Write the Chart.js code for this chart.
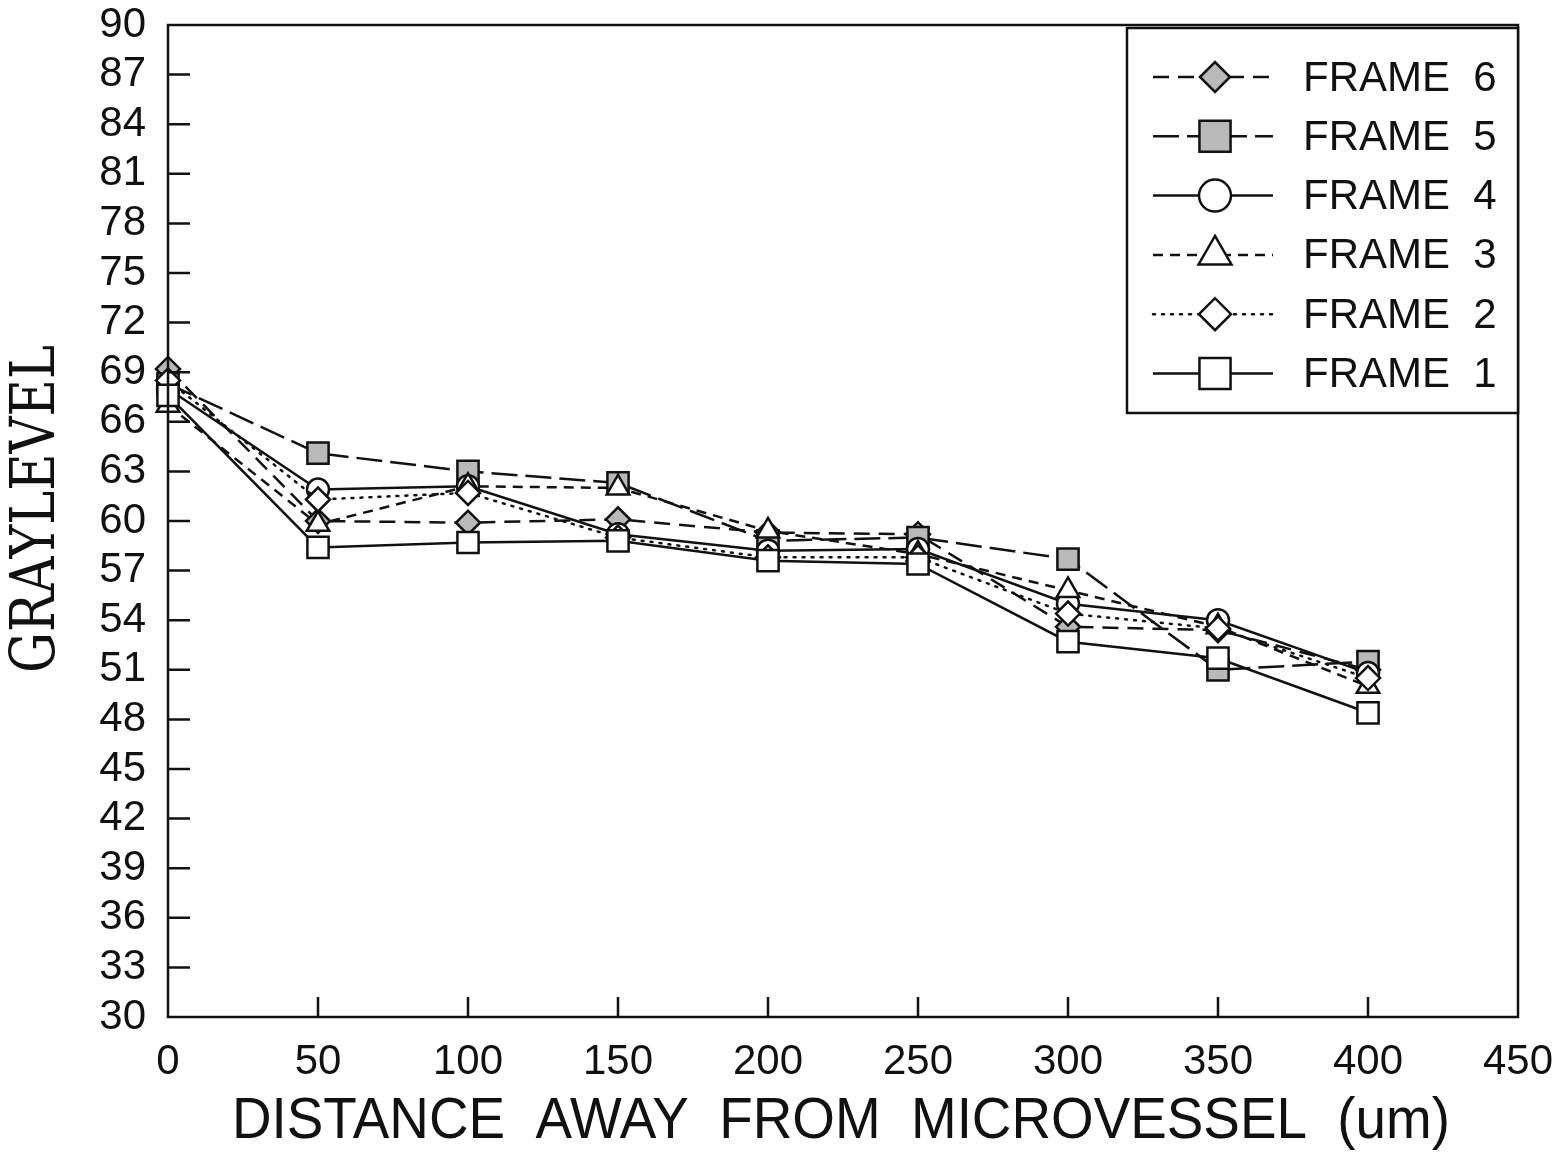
<!DOCTYPE html>
<html>
<head>
<meta charset="utf-8">
<script src="https://cdn.jsdelivr.net/npm/chart.js@4.4.1/dist/chart.umd.min.js"></script>
<style>
    html, body { margin: 0; padding: 0; background: #fff; }
    #wrap { width: 1566px; height: 1157px; position: relative; }
</style>
</head>
<body>
<div id="wrap"><canvas id="grayChart" width="1566" height="1157"></canvas></div>
<script>
// distance from the microvessel (um) and mean graylevel for each frame
const distances = [0, 50, 100, 150, 200, 250, 300, 350, 400];
const frame1 = [67.6, 58.4, 58.7, 58.8, 57.6, 57.4, 52.7, 51.7, 48.4];
const frame2 = [68.5, 61.3, 61.7, 59.0, 57.8, 57.8, 54.4, 53.5, 50.5];
const frame3 = [67.0, 59.8, 62.1, 62.0, 59.4, 58.0, 55.8, 53.6, 50.0];
const frame4 = [68.0, 61.9, 62.1, 59.2, 58.2, 58.3, 55.0, 54.0, 50.8];
const frame5 = [68.3, 64.1, 63.0, 62.3, 58.8, 59.0, 57.7, 51.0, 51.5];
const frame6 = [69.2, 60.0, 59.9, 60.1, 59.3, 59.2, 53.6, 53.4, 51.0];

const xTicks = [0, 50, 100, 150, 200, 250, 300, 350, 400, 450];
const yTicks = [30, 33, 36, 39, 42, 45, 48, 51, 54, 57, 60, 63, 66, 69, 72, 75, 78, 81, 84, 87, 90];

const INK = '#111';
const SHADE = '#b9b9b9';
const TICK_FONT = 'Liberation Sans, Arial, sans-serif';

function toPoints(values) {
    return distances.map((d, i) => ({ x: d, y: values[i] }));
}

function frameSet(label, values, style) {
    return {
        label: label,
        data: toPoints(values),
        borderColor: INK,
        borderWidth: 2.5,
        borderDash: style.dash,
        borderCapStyle: style.cap || 'butt',
        backgroundColor: style.fill,
        pointStyle: style.point,
        pointRadius: style.radius,
        pointBorderWidth: 2.5,
        pointBorderColor: INK,
        pointBackgroundColor: style.fill,
        tension: 0,
        clip: false,
        legendRadius: style.legendRadius
    };
}

// drawn bottom to top so the shaded markers sit on the open ones
const datasets = [
    frameSet('FRAME  1', frame1, { dash: [], point: 'rect', radius: 15, legendRadius: 22, fill: '#fff' }),
    frameSet('FRAME  2', frame2, { dash: [2, 7], cap: 'round', point: 'rectRot', radius: 12, legendRadius: 16, fill: '#fff' }),
    frameSet('FRAME  3', frame3, { dash: [10, 7], point: 'triangle', radius: 13, legendRadius: 19, fill: '#fff' }),
    frameSet('FRAME  4', frame4, { dash: [], point: 'circle', radius: 11, legendRadius: 16, fill: '#fff' }),
    frameSet('FRAME  5', frame5, { dash: [26, 8], point: 'rect', radius: 15, legendRadius: 22, fill: SHADE }),
    frameSet('FRAME  6', frame6, { dash: [16, 9], point: 'rectRot', radius: 12, legendRadius: 15, fill: SHADE })
];

// frame box + inward tick marks
const frameTicks = {
    id: 'frameTicks',
    afterDraw(chart) {
        const { ctx, chartArea: a, scales } = chart;
        ctx.save();
        ctx.strokeStyle = INK;
        ctx.lineWidth = 2.5;
        ctx.setLineDash([]);
        ctx.strokeRect(a.left, a.top, a.right - a.left, a.bottom - a.top);
        ctx.beginPath();
        yTicks.slice(1, -1).forEach(v => {
            const y = scales.y.getPixelForValue(v);
            ctx.moveTo(a.left, y);
            ctx.lineTo(a.left + 22, y);
        });
        xTicks.slice(1, -1).forEach(v => {
            const x = scales.x.getPixelForValue(v);
            ctx.moveTo(x, a.bottom);
            ctx.lineTo(x, a.bottom - 20);
        });
        ctx.stroke();
        ctx.restore();
    }
};

// axis titles, stretched to their set widths
function fitText(ctx, text, font, width, cx, cy, angle) {
    ctx.save();
    ctx.font = font;
    const w = ctx.measureText(text).width;
    ctx.translate(cx, cy);
    ctx.rotate(angle);
    ctx.scale(width / w, 1);
    ctx.textAlign = 'center';
    ctx.textBaseline = 'middle';
    ctx.fillStyle = INK;
    ctx.fillText(text, 0, 0);
    ctx.restore();
}

const axisTitles = {
    id: 'axisTitles',
    afterDraw(chart) {
        const ctx = chart.ctx;
        fitText(ctx, 'DISTANCE  AWAY  FROM  MICROVESSEL  (um)', '58px Liberation Sans, Arial, sans-serif', 1218, 841, 1122, 0);
        fitText(ctx, 'GRAYLEVEL', '62px DejaVu Serif, Liberation Serif, serif', 328, 38, 509, -Math.PI / 2);
    }
};

// boxed legend in the upper right, frame 6 first
const boxLegend = {
    id: 'boxLegend',
    afterDraw(chart) {
        const ctx = chart.ctx;
        const a = chart.chartArea;
        const left = 1127, top = 28;
        ctx.save();
        ctx.fillStyle = '#fff';
        ctx.fillRect(left, top, a.right - left, 385);
        ctx.strokeStyle = INK;
        ctx.lineWidth = 2.5;
        ctx.strokeRect(left, top, a.right - left, 385);
        const sets = chart.data.datasets.slice().reverse();
        sets.forEach((ds, k) => {
            const y = 77 + k * 59.3;
            ctx.strokeStyle = INK;
            ctx.lineWidth = 2.5;
            ctx.lineCap = ds.borderCapStyle;
            ctx.setLineDash(ds.borderDash);
            ctx.beginPath();
            ctx.moveTo(1153, y);
            ctx.lineTo(1273, y);
            ctx.stroke();
            ctx.setLineDash([]);
            ctx.lineCap = 'butt';
            ctx.fillStyle = ds.pointBackgroundColor;
            Chart.helpers.drawPoint(ctx, {
                pointStyle: ds.pointStyle,
                radius: ds.legendRadius,
                rotation: 0,
                borderWidth: 2.5
            }, 1215, y);
            ctx.fillStyle = INK;
            ctx.font = '42px ' + TICK_FONT;
            ctx.textAlign = 'left';
            ctx.textBaseline = 'middle';
            ctx.fillText(ds.label, 1303, y + 2);
        });
        ctx.restore();
    }
};

const chart = new Chart(document.getElementById('grayChart').getContext('2d'), {
    type: 'line',
    data: { datasets: datasets },
    options: {
        responsive: false,
        animation: false,
        layout: { autoPadding: false, padding: { top: 25, right: 48, left: 0, bottom: 0 } },
        plugins: {
            legend: { display: false },
            tooltip: { enabled: false }
        },
        scales: {
            x: {
                type: 'linear',
                min: 0,
                max: 450,
                afterBuildTicks: scale => { scale.ticks = xTicks.map(v => ({ value: v })); },
                afterFit: scale => {
                    scale.height = 140;
                    scale.paddingLeft = 0;
                    scale.paddingRight = 0;
                },
                grid: { display: false, drawTicks: false },
                border: { display: false },
                ticks: {
                    padding: 20,
                    maxRotation: 0,
                    autoSkip: false,
                    color: INK,
                    font: { family: TICK_FONT, size: 42 }
                }
            },
            y: {
                type: 'linear',
                min: 30,
                max: 90,
                afterBuildTicks: scale => { scale.ticks = yTicks.map(v => ({ value: v })); },
                afterFit: scale => {
                    scale.width = 168;
                    scale.paddingTop = 0;
                    scale.paddingBottom = 0;
                },
                grid: { display: false, drawTicks: false },
                border: { display: false },
                ticks: {
                    padding: 22,
                    autoSkip: false,
                    color: INK,
                    font: { family: TICK_FONT, size: 42 }
                }
            }
        }
    },
    plugins: [frameTicks, axisTitles, boxLegend]
});
</script>
</body>
</html>
